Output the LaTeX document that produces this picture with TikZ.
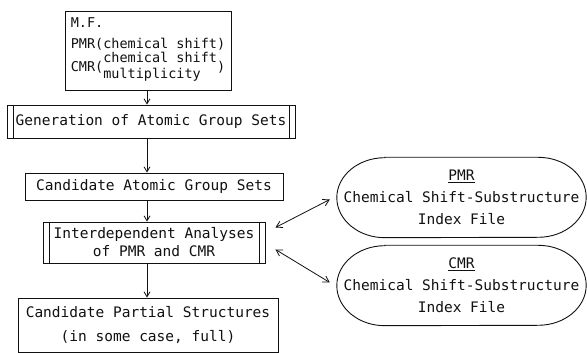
\documentclass[tikz,border=0pt]{standalone}
\usepackage{fontspec}
\usepackage{xcolor}
\setmonofont{DejaVu Sans Mono}
\usetikzlibrary{arrows.meta,calc}
\definecolor{Ink}{HTML}{111111}
\newcommand{\stackpair}[2]{({\def\arraystretch{0.67}\begin{tabular}{@{}l@{}}#1\\#2\end{tabular}})}
\newcommand{\filepath}[1]{\draw[Ink,line width=0.9pt] ([xshift=48pt]#1.north west) -- ([xshift=-48pt]#1.north east)
  arc[start angle=90,end angle=-90,x radius=48pt,y radius=40pt] -- ([xshift=48pt]#1.south west)
  arc[start angle=270,end angle=90,x radius=48pt,y radius=40pt] -- cycle;}

\begin{document}
\begin{tikzpicture}[x=1pt,y=1pt,every node/.style={font=\ttfamily\fontsize{14.5}{24}\selectfont,text=Ink},
  box/.style={draw=Ink,line width=0.9pt,inner sep=0pt,align=center},
  twobar/.style={box,path picture={
    \draw[Ink,line width=0.9pt] ([xshift=6pt]path picture bounding box.north west)--([xshift=6pt]path picture bounding box.south west);
    \draw[Ink,line width=0.9pt] ([xshift=-6pt]path picture bounding box.north east)--([xshift=-6pt]path picture bounding box.south east);}},
  filebox/.style={inner sep=0pt,align=center,minimum width=249,minimum height=80},
  flow/.style={draw=Ink,line width=0.8pt,-{Straight Barb[length=5pt,width=6pt]}},
  link/.style={draw=Ink,line width=0.8pt,{Straight Barb[length=6pt,width=7pt]}-{Straight Barb[length=6pt,width=7pt]}}]
\useasboundingbox (0,0) rectangle (587,353);
\fill[white] (0,0) rectangle (587,353);
\node[box,minimum width=166,minimum height=79,align=left,font=\ttfamily\fontsize{13.5}{24}\selectfont] (mf) at (148,302.5)
  {M.F.\\[-3pt]PMR(chemical shift)\\[-1pt]CMR\stackpair{chemical shift}{multiplicity}};
\node[twobar,minimum width=288,minimum height=33] (gen) at (151,231.5) {Generation of Atomic Group Sets};
\node[box,minimum width=258,minimum height=27] (cand) at (154,166.5) {Candidate Atomic Group Sets};
\node[twobar,minimum width=222,minimum height=41] (inter) at (154,110.5) {Interdependent Analyses\\[-6pt]of PMR and CMR};
\node[box,minimum width=260,minimum height=54] (part) at (148,28) {Candidate Partial Structures\\(in some case, full)};
\node[filebox] (pmr) at (461.5,155.5) {\underline{PMR}\\[-2pt]Chemical Shift-Substructure\\[-2pt]Index File};
\node[filebox] (cmr) at (461.5,67.5) {\underline{CMR}\\[-2pt]Chemical Shift-Substructure\\[-2pt]Index File};
\filepath{pmr}
\filepath{cmr}
\draw[flow] ($(mf.south)+(-1,0)$) -- ($(mf.south |- gen.north)+(-1,0)$);
\draw[flow] ($(mf.south |- gen.south)+(-1,0)$) -- ($(mf.south |- cand.north)+(-1,0)$);
\draw[flow] ($(mf.south |- cand.south)+(-1,0)$) -- ($(mf.south |- inter.north)+(-1,0)$);
\draw[flow] ($(mf.south |- inter.south)+(-1,0)$) -- ($(mf.south |- part.north)+(-1,0)$);
\draw[link] ([xshift=10pt,yshift=15pt]inter.east) -- ([xshift=-7pt,yshift=-2pt]pmr.west);
\draw[link] ([xshift=10pt,yshift=-7pt]inter.east) -- ([xshift=-7pt,yshift=3pt]cmr.west);
\end{tikzpicture}
\end{document}
